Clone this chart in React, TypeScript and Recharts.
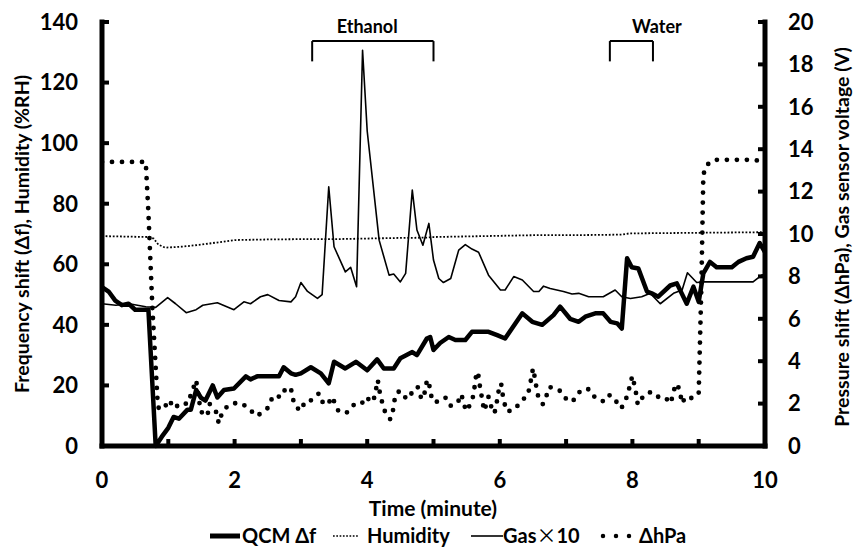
import React from 'react';
import { LineChart, Line, XAxis, YAxis, ReferenceLine, ReferenceDot } from 'recharts';

// time in minutes
const qcmTime = [
  0, 0.1, 0.2, 0.3, 0.4, 0.5, 0.7, 0.81, 0.9, 1.0, 1.08, 1.16, 1.29, 1.34, 1.42, 1.49, 1.56, 1.67, 1.74, 1.84,
  1.99, 2.17, 2.24, 2.34, 2.67, 2.74, 2.85, 2.92, 3.0, 3.15, 3.3, 3.42, 3.5, 3.67, 3.83, 4.0, 4.15, 4.25, 4.4, 4.5,
  4.68, 4.75, 4.9, 4.95, 5.0, 5.1, 5.23, 5.33, 5.48, 5.58, 5.83, 5.96, 6.08, 6.34, 6.49, 6.64, 6.81, 6.91, 7.06, 7.19,
  7.29, 7.44, 7.56, 7.67, 7.77, 7.84, 7.92, 7.99, 8.09, 8.22, 8.29, 8.39, 8.57, 8.67, 8.82, 8.92, 9.0, 9.07, 9.17, 9.27,
  9.5, 9.6, 9.72, 9.82, 9.92, 10,
];
const qcmShift = [
  52.5, 51, 48, 46.5, 47, 45, 45, 0, 3, 6, 9.6, 9, 12, 12, 18.5, 16, 15, 20, 16, 18.5,
  19, 23, 22, 23, 23, 26, 24, 23.5, 24, 26, 24, 20.7, 27.8, 25.6, 27.8, 25, 28.6, 25.6, 25.6, 29,
  31, 30, 35.5, 36, 31.7, 34, 36, 35, 35, 37.7, 37.7, 36.6, 35.5, 43.8, 41, 40, 43.2, 46, 42, 41,
  42.7, 43.8, 43.8, 41, 40.5, 38.8, 62, 59, 58.6, 51, 50.4, 49.3, 53, 53.7, 47, 52.6, 47.6, 57, 60.8, 59,
  59, 60.8, 62, 62.5, 67, 64,
];

const humidityTime = [0, 0.7, 0.78, 0.85, 0.95, 1.2, 1.5, 2.0, 2.5, 3.0, 3.5, 4.0, 4.5, 4.9, 5.0, 5.5, 6.0, 6.5, 7.0, 7.5, 7.85, 7.95, 8.5, 9.0, 9.5, 10];
const humidity = [69.3, 69.0, 68.5, 66.5, 65.5, 65.8, 66.5, 68, 68.2, 68.3, 68.3, 68.5, 68.7, 68.8, 69, 69.2, 69.4, 69.6, 69.6, 69.7, 69.8, 70.2, 70.3, 70.4, 70.5, 70.6];

// gas sensor voltage (V), right axis
const gasTime = [
  0, 0.21, 0.41, 0.66, 0.81, 0.99, 1.11, 1.27, 1.42, 1.52, 1.74, 1.99, 2.14, 2.24, 2.39, 2.5, 2.67, 2.85, 2.92, 3.0,
  3.1, 3.25, 3.32, 3.42, 3.5, 3.67, 3.75, 3.84, 3.93, 4.0, 4.18, 4.33, 4.4, 4.5, 4.58, 4.68, 4.75, 4.84, 4.93, 5.0,
  5.08, 5.15, 5.26, 5.38, 5.48, 5.58, 5.68, 5.83, 6.01, 6.08, 6.21, 6.34, 6.51, 6.59, 6.66, 6.76, 6.96, 7.09, 7.19, 7.34,
  7.44, 7.56, 7.74, 7.84, 7.97, 8.14, 8.27, 8.42, 8.62, 8.75, 8.83, 8.97, 9.07, 9.82, 9.95, 10,
];
const gasVoltage = [
  6.71, 6.64, 6.71, 6.57, 6.54, 7.0, 6.71, 6.29, 6.43, 6.64, 6.76, 6.43, 6.8, 6.71, 7.04, 7.14, 6.86, 6.8, 7.04, 7.71,
  7.29, 6.96, 7.14, 12.23, 9.4, 8.21, 8.43, 7.51, 18.67, 14.86, 9.71, 8.06, 8.11, 7.74, 8.14, 12.07, 10.19, 9.47, 10.5, 8.77,
  7.9, 7.71, 7.9, 9.24, 9.5, 9.29, 9.14, 8.06, 7.36, 7.36, 7.99, 7.83, 7.29, 7.29, 7.54, 7.43, 7.29, 7.17, 7.2, 7.04,
  7.04, 7.04, 7.36, 7.04, 6.96, 7.04, 7.2, 6.71, 7.2, 7.36, 8.17, 7.71, 7.74, 7.74, 8.06, 8.1,
];

// pressure shift (ΔhPa), right axis
const pressureTime = [
  0, 0.66, 0.7, 0.76, 0.84, 0.86, 0.94, 1.01, 1.09, 1.19, 1.29, 1.42, 1.49, 1.59, 1.62, 1.73, 1.76, 1.79, 1.84, 1.95,
  2.09, 2.22, 2.32, 2.42, 2.52, 2.57, 2.6, 2.7, 2.77, 2.85, 2.87, 2.92, 3.0, 3.06, 3.12, 3.2, 3.27, 3.32, 3.4, 3.47,
  3.57, 3.69, 3.79, 3.9, 3.99, 4.06, 4.11, 4.16, 4.18, 4.21, 4.25, 4.3, 4.35, 4.39, 4.41, 4.46, 4.53, 4.59, 4.69, 4.76,
  4.8, 4.83, 4.88, 4.9, 4.93, 4.95, 4.99, 5.09, 5.18, 5.25, 5.36, 5.42, 5.45, 5.49, 5.55, 5.6, 5.62, 5.64, 5.67, 5.69,
  5.71, 5.74, 5.76, 5.79, 5.83, 5.86, 5.88, 5.92, 5.94, 5.97, 5.99, 6.02, 6.04, 6.07, 6.11, 6.23, 6.32, 6.42, 6.45, 6.48,
  6.5, 6.53, 6.55, 6.58, 6.65, 6.7, 6.74, 6.81, 6.93, 7.01, 7.1, 7.17, 7.29, 7.37, 7.44, 7.58, 7.66, 7.74, 7.83, 7.89,
  7.94, 7.97, 8.0, 8.03, 8.06, 8.08, 8.1, 8.17, 8.29, 8.39, 8.49, 8.57, 8.61, 8.64, 8.68, 8.72, 8.75, 8.8, 8.87, 8.96,
  9.0, 9.04, 9.07, 9.12, 9.23, 9.82, 10,
];
const pressureShift = [
  13.4, 13.4, 11.0, 6.5, 2.0, 1.73, 1.8, 2.17, 1.77, 2.04, 1.98, 3.1, 1.62, 1.41, 2.0, 1.57, 1.07, 1.38, 1.73, 2.0,
  2.04, 1.77, 1.41, 1.57, 1.85, 2.32, 2.4, 2.3, 2.72, 2.73, 2.3, 1.85, 1.66, 2.09, 2.09, 2.25, 2.48, 2.09, 1.93, 2.32,
  1.62, 1.57, 1.93, 1.93, 2.32, 2.05, 2.3, 3.11, 2.68, 2.25, 1.77, 1.38, 1.26, 1.7, 2.14, 2.56, 2.56, 2.2, 2.56, 2.8,
  2.36, 2.2, 2.64, 3.11, 3.05, 2.56, 2.09, 2.09, 2.28, 1.89, 2.01, 2.44, 2.09, 1.65, 1.93, 2.36, 2.8, 3.27, 3.5, 3.03,
  2.6, 2.14, 1.66, 1.89, 2.32, 1.97, 1.77, 1.54, 1.85, 2.32, 2.77, 2.95, 2.48, 2.01, 1.62, 1.73, 2.14, 2.36, 2.8, 3.27,
  3.66, 3.2, 2.8, 2.32, 1.97, 2.32, 2.77, 2.77, 2.56, 2.17, 2.09, 2.48, 2.72, 2.64, 2.25, 2.09, 2.41, 2.17, 1.77, 2.09,
  2.56, 2.98, 3.3, 2.88, 2.41, 1.97, 1.97, 2.41, 2.56, 2.32, 2.32, 2.01, 2.36, 2.8, 2.93, 2.48, 2.01, 2.32, 2.25, 2.32,
  2.5, 7.5, 12.8, 13.25, 13.5, 13.5, 13.4,
];

const timeTicks = [0, 1, 2, 3, 4, 5, 6, 7, 8, 9, 10];
const leftTicks = [0, 20, 40, 60, 80, 100, 120, 140];
const rightTicks = [0, 2, 4, 6, 8, 10, 12, 14, 16, 18, 20];

// exposure periods (minutes)
const ethanolPeriod = [3.17, 5.0];
const waterPeriod = [7.66, 8.31];

const rows = (ts: number[], vs: number[]) => ts.map((t, i) => ({ t, v: vs[i] }));

const FONT = 'Lato, "Open Sans", sans-serif';
const tickStyle = { fill: '#000', fontSize: 22, fontWeight: 700, fontFamily: FONT };
const axisLine = { stroke: '#000', strokeWidth: 5, strokeLinecap: 'square' as const };
const tickLine = { stroke: '#000', strokeWidth: 4 };

const bracketTop = 133.7;
const bracketFoot = 127;
const labelY = 138.6;

const Bracket = (range: number[], key: string) => [
  <ReferenceLine key={key + 'a'} yAxisId="left" ifOverflow="visible" stroke="#000" strokeWidth={2}
    segment={[{ x: range[0], y: bracketFoot }, { x: range[0], y: bracketTop }]} />,
  <ReferenceLine key={key + 'b'} yAxisId="left" ifOverflow="visible" stroke="#000" strokeWidth={2}
    segment={[{ x: range[0], y: bracketTop }, { x: range[1], y: bracketTop }]} />,
  <ReferenceLine key={key + 'c'} yAxisId="left" ifOverflow="visible" stroke="#000" strokeWidth={2}
    segment={[{ x: range[1], y: bracketTop }, { x: range[1], y: bracketFoot }]} />,
];

export default function App() {
  const txt = { fontFamily: FONT, fontWeight: 700, fill: '#000' };
  return (
    <div style={{ position: 'absolute', left: 0, top: 0, width: 855, height: 548, background: '#fff' }}>
      <LineChart width={855} height={548} margin={{ top: 22, right: 0, bottom: 0, left: 0 }}>
        <XAxis
          dataKey="t"
          type="number"
          domain={[0, 10]}
          ticks={timeTicks}
          tickFormatter={(v: number) => (v % 2 === 0 ? String(v) : '')}
          height={102}
          axisLine={axisLine}
          tickLine={tickLine}
          tickSize={-7}
          tickMargin={33}
          tick={tickStyle}
          allowDataOverflow
        />
        <YAxis
          yAxisId="left"
          domain={[0, 140]}
          ticks={leftTicks}
          width={102}
          axisLine={axisLine}
          tickLine={tickLine}
          tickSize={-7}
          tickMargin={31}
          tick={tickStyle}
        />
        <YAxis
          yAxisId="right"
          orientation="right"
          domain={[0, 20]}
          ticks={rightTicks}
          width={90}
          axisLine={axisLine}
          tickLine={tickLine}
          tickSize={-7}
          tickMargin={30}
          tick={tickStyle}
        />
        {Bracket(ethanolPeriod, 'eth')}
        {Bracket(waterPeriod, 'wat')}
        <ReferenceDot yAxisId="left" x={4.0} y={labelY} r={0} ifOverflow="visible"
          label={{ value: 'Ethanol', position: 'center', fontSize: 18, fontWeight: 700, fontFamily: FONT, fill: '#000' }} />
        <ReferenceDot yAxisId="left" x={8.37} y={labelY} r={0} ifOverflow="visible"
          label={{ value: 'Water', position: 'center', fontSize: 18, fontWeight: 700, fontFamily: FONT, fill: '#000' }} />
        <Line yAxisId="left" data={rows(humidityTime, humidity)} dataKey="v" type="linear" stroke="#000"
          strokeWidth={1.8} strokeDasharray="1.8 1.8" dot={false} isAnimationActive={false} />
        <Line yAxisId="right" data={rows(gasTime, gasVoltage)} dataKey="v" type="linear" stroke="#000"
          strokeWidth={1.6} strokeLinejoin="round" dot={false} isAnimationActive={false} />
        <Line yAxisId="right" data={rows(pressureTime, pressureShift)} dataKey="v" type="linear" stroke="#000"
          strokeWidth={4.8} strokeDasharray="0 10" strokeLinecap="round" dot={false} isAnimationActive={false} />
        <Line yAxisId="left" data={rows(qcmTime, qcmShift)} dataKey="v" type="linear" stroke="#000"
          strokeWidth={4.5} strokeLinejoin="round" dot={false} isAnimationActive={false} />
      </LineChart>
      <svg width={855} height={548} style={{ position: 'absolute', left: 0, top: 0, pointerEvents: 'none' }}>
        <text {...txt} fontSize={19.5} textAnchor="middle" transform="translate(29,234) rotate(-90)">
          Frequency shift (Δf), Humidity (%RH)
        </text>
        <text {...txt} fontSize={19.5} textAnchor="middle" transform="translate(849,237) rotate(-90)">
          Pressure shift (ΔhPa), Gas sensor voltage (V)
        </text>
        <text {...txt} fontSize={21} textAnchor="middle" x={433} y={516}>Time (minute)</text>
        <line x1={210} x2={240} y1={536} y2={536} stroke="#000" strokeWidth={5} />
        <text {...txt} fontSize={20} x={242} y={543}>QCM Δf</text>
        <line x1={333} x2={358} y1={536} y2={536} stroke="#000" strokeWidth={1.6} strokeDasharray="1.7 1.6" />
        <text {...txt} fontSize={20} x={367} y={543}>Humidity</text>
        <line x1={471} x2={503} y1={536} y2={536} stroke="#000" strokeWidth={1.6} />
        <text {...txt} fontSize={20} x={503} y={543}>
          Gas<tspan fontFamily='"Noto Sans CJK JP"' fontWeight={400}>×</tspan>10
        </text>
        <line x1={603} x2={630} y1={536} y2={536} stroke="#000" strokeWidth={4.5} strokeDasharray="0 13" strokeLinecap="round" />
        <text {...txt} fontSize={20} x={639} y={543}>ΔhPa</text>
      </svg>
    </div>
  );
}
